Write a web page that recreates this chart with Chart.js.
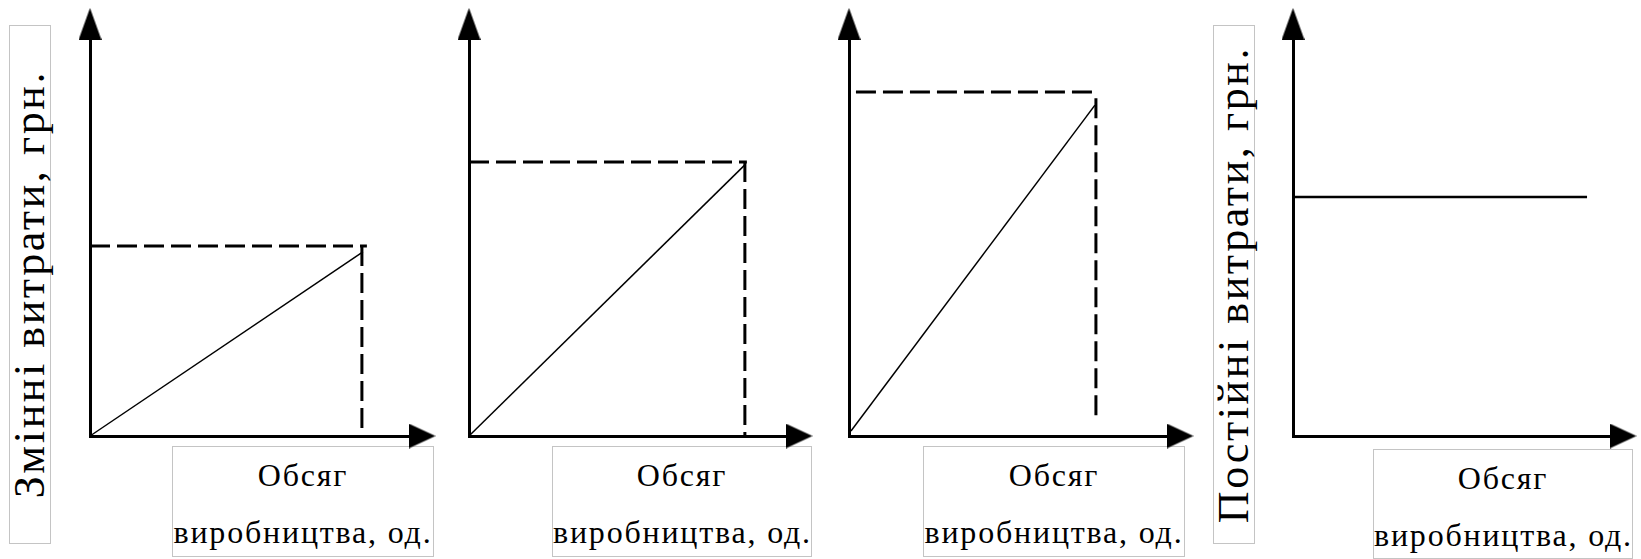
<!DOCTYPE html>
<html><head><meta charset="utf-8">
<script src="https://cdn.jsdelivr.net/npm/chart.js@4.4.1/dist/chart.umd.min.js"></script>
<style>
html,body{margin:0;padding:0;background:#fff;}
#stage{position:relative;width:1641px;height:559px;overflow:hidden;background:#fff;}
#stage canvas{position:absolute;top:0;z-index:2;}
.box{position:absolute;border:1px solid #c4c4c4;box-sizing:border-box;font-family:"Liberation Serif","Times New Roman",serif;color:#000;z-index:1;background:#fff;}
.ybox{display:flex;align-items:center;justify-content:center;}
.ybox span{writing-mode:vertical-rl;transform:rotate(180deg);font-size:44px;line-height:1;white-space:nowrap;letter-spacing:2.6px;}
.xbox{text-align:center;font-size:32px;line-height:57px;white-space:nowrap;letter-spacing:1.8px;}
</style></head>
<body><div id="stage"></div>
<script>
// ---------- data ----------
const yTitleVariable = 'Змінні витрати, грн.';
const yTitleFixed = 'Постійні витрати, грн.';
const xTitleLines = ['Обсяг', 'виробництва, од.'];
const axisRange = [0, 10];

// panel 1 – variable costs (gentle slope)
const p1Cost   = [{x:0, y:0}, {x:8.22, y:4.47}];
const p1GuideH = [{x:0, y:4.61}, {x:8.34, y:4.61}];
const p1GuideV = [{x:8.19, y:4.61}, {x:8.19, y:0}];
// panel 2 – variable costs (medium slope)
const p2Cost   = [{x:0, y:0}, {x:8.36, y:6.58}];
const p2GuideH = [{x:0, y:6.65}, {x:8.42, y:6.65}];
const p2GuideV = [{x:8.36, y:6.65}, {x:8.36, y:0}];
// panel 3 – variable costs (steep slope)
const p3Cost   = [{x:0.06, y:0.12}, {x:7.43, y:8.03}];
const p3GuideH = [{x:0.21, y:8.35}, {x:7.49, y:8.35}];
const p3GuideV = [{x:7.46, y:8.2}, {x:7.46, y:0.36}];
// panel 4 – fixed costs
const p4Cost   = [{x:0, y:5.80}, {x:8.91, y:5.80}];
// arrow heads at the axis ends
const yArrowPoint = [{x:0, y:10}];
const xArrowPoint = [{x:10, y:0}];

// ---------- layout (positions / sizes) ----------
const CANVAS_H = 470, AXIS_Y = 436, ARROW_Y = 24;
const panels = [
  {left:60,   width:390, axisX:90,   arrowX:422,  cost:p1Cost, guides:[p1GuideH, p1GuideV], costWidth:1.5,
   xbox:{left:172, top:446, w:262, h:111}, ybox:{left:9, top:25, w:42, h:519, text:yTitleVariable}},
  {left:440,  width:380, axisX:469,  arrowX:799,  cost:p2Cost, guides:[p2GuideH, p2GuideV], costWidth:1.5,
   xbox:{left:552, top:446, w:260, h:111}},
  {left:820,  width:380, axisX:849,  arrowX:1180, cost:p3Cost, guides:[p3GuideH, p3GuideV], costWidth:1.5,
   xbox:{left:923, top:446, w:262, h:111}},
  {left:1265, width:376, axisX:1293, arrowX:1623, cost:p4Cost, guides:[], costWidth:2.5,
   xbox:{left:1373, top:449, w:260, h:110}, ybox:{left:1213, top:25, w:42, h:519, text:yTitleFixed}}
];

// arrow glyphs
function makeArrow(w, h, dir) {
  const c = document.createElement('canvas');
  c.width = w; c.height = h;
  const g = c.getContext('2d');
  g.fillStyle = '#000';
  g.beginPath();
  if (dir === 'up') { g.moveTo(w/2, 0); g.lineTo(w, h); g.lineTo(0, h); }
  else { g.moveTo(0, 0); g.lineTo(w, h/2); g.lineTo(0, h); }
  g.closePath(); g.fill();
  return c;
}
const upArrow = makeArrow(23, 32, 'up');
const rightArrow = makeArrow(27, 25, 'right');

const stage = document.getElementById('stage');

function axisOpts() {
  return {
    type: 'linear', min: axisRange[0], max: axisRange[1],
    grid: {display: false, drawTicks: false, tickLength: 0},
    ticks: {display: false},
    border: {display: true, color: '#000', width: 3}
  };
}

panels.forEach(p => {
  // label boxes
  if (p.ybox) {
    const d = document.createElement('div');
    d.className = 'box ybox';
    Object.assign(d.style, {left:p.ybox.left+'px', top:p.ybox.top+'px', width:p.ybox.w+'px', height:p.ybox.h+'px'});
    const s = document.createElement('span');
    s.textContent = p.ybox.text;
    d.appendChild(s);
    stage.appendChild(d);
  }
  const xb = document.createElement('div');
  xb.className = 'box xbox';
  Object.assign(xb.style, {left:p.xbox.left+'px', top:p.xbox.top+'px', width:p.xbox.w+'px', height:p.xbox.h+'px'});
  xb.innerHTML = xTitleLines.map(t => '<div>' + t + '</div>').join('');
  stage.appendChild(xb);

  // chart canvas
  const cv = document.createElement('canvas');
  cv.width = p.width; cv.height = CANVAS_H;
  cv.style.left = p.left + 'px';
  cv.style.width = p.width + 'px'; cv.style.height = CANVAS_H + 'px';
  stage.appendChild(cv);

  const datasets = [];
  p.guides.forEach(gd => datasets.push({
    data: gd, showLine: true, borderColor: '#000', borderWidth: 3,
    borderDash: [20, 7], pointRadius: 0, clip: false
  }));
  datasets.push({
    data: p.cost, showLine: true, borderColor: '#000', borderWidth: p.costWidth,
    pointRadius: 0, clip: false
  });
  datasets.push({data: yArrowPoint, showLine: false, pointStyle: upArrow, pointRadius: 14, clip: false});
  datasets.push({data: xArrowPoint, showLine: false, pointStyle: rightArrow, pointRadius: 14, clip: false});

  new Chart(cv, {
    type: 'scatter',
    data: {datasets},
    options: {
      responsive: false, animation: false, events: [],
      layout: {padding: {left: p.axisX - p.left, right: p.left + p.width - p.arrowX, top: ARROW_Y, bottom: CANVAS_H - AXIS_Y}},
      plugins: {legend: {display: false}, tooltip: {enabled: false}, title: {display: false}},
      scales: {x: axisOpts(), y: axisOpts()}
    }
  });
});
</script>
</body></html>
